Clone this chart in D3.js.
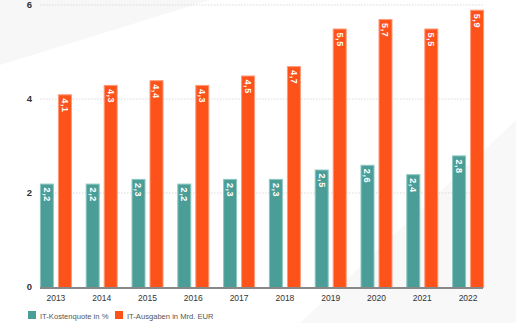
<!DOCTYPE html>
<html><head><meta charset="utf-8">
<script src="https://cdn.jsdelivr.net/npm/d3@7"></script>
<style>body{margin:0;background:#fff;}svg{display:block;font-family:"Liberation Sans",Arial,sans-serif;}</style>
</head><body>
<svg id="c" width="516" height="323"></svg>
<script>
const years = ["2013","2014","2015","2016","2017","2018","2019","2020","2021","2022"];
const kostenquote = [2.2,2.2,2.3,2.2,2.3,2.3,2.5,2.6,2.4,2.8];
const ausgaben = [4.1,4.3,4.4,4.3,4.5,4.7,5.5,5.7,5.5,5.9];
const yTicks = [0,2,4,6];
const seriesNames = ["IT-Kostenquote in %","IT-Ausgaben in Mrd. EUR"];
const colors = ["#4a9e97","#fd5219"];
const strokes = ["#8cc7c1","#ff9a78"];

const svg = d3.select("#c");
// faint background shading
svg.append("polygon").attr("points","0,0 210,0 0,65").attr("fill","#f7f7f7");
svg.append("polygon").attr("points","516,120 516,323 300,323").attr("fill","#f8f8f8");

const y = d3.scaleLinear().domain([0,6]).range([287,5]);
const x = d3.scaleBand().domain(years).range([33,491]);

// gridlines
svg.append("g").selectAll("line").data(yTicks.filter(d=>d>0)).join("line")
  .attr("x1",40).attr("x2",483).attr("y1",d=>y(d)).attr("y2",d=>y(d))
  .attr("stroke","#d9d9d9").attr("stroke-width",1).attr("stroke-dasharray","1.5,1.5");

// y labels
svg.append("g").selectAll("text").data(yTicks).join("text")
  .attr("x",32).attr("y",d=>y(d)+3).attr("text-anchor","end")
  .attr("font-size",9.5).attr("font-weight","bold").attr("fill","#333").text(d=>d);

const series = [kostenquote, ausgaben];
const bw = 14;
series.forEach((vals,si)=>{
  const g = svg.append("g");
  const off = si===0 ? -16 : 2;
  g.selectAll("rect").data(vals).join("rect")
    .attr("x",(d,i)=>x(years[i])+x.bandwidth()/2+off+0.5)
    .attr("y",d=>y(d)+0.5)
    .attr("width",bw-1).attr("height",d=>y(0)-y(d))
    .attr("fill",colors[si]).attr("stroke",strokes[si]).attr("stroke-width",1);
  g.selectAll("text").data(vals).join("text")
    .attr("transform",(d,i)=>{
      const cx = x(years[i])+x.bandwidth()/2+off+bw/2;
      return `translate(${cx},${y(d)+4}) rotate(90)`;
    })
    .attr("dy","0.35em").attr("text-anchor","start")
    .attr("font-size",9).attr("font-weight","bold").attr("fill","#fff")
    .attr("letter-spacing","0.6")
    .text(d=>d.toFixed(1).replace(".",","));
});

// x axis line
svg.append("line").attr("x1",40).attr("x2",483).attr("y1",y(0)+1).attr("y2",y(0)+1)
  .attr("stroke","#888").attr("stroke-width",2);

// x labels
svg.append("g").selectAll("text").data(years).join("text")
  .attr("x",d=>x(d)+x.bandwidth()/2).attr("y",301).attr("text-anchor","middle")
  .attr("font-size",8.5).attr("fill","#333").text(d=>d);

// legend
const lx = [28,115];
seriesNames.forEach((n,i)=>{
  svg.append("rect").attr("x",lx[i]).attr("y",311).attr("width",8).attr("height",8).attr("fill",colors[i]);
  svg.append("text").attr("x",lx[i]+12).attr("y",318.5).attr("font-size",7.6).attr("fill","#555").text(n);
});
</script>
</body></html>
